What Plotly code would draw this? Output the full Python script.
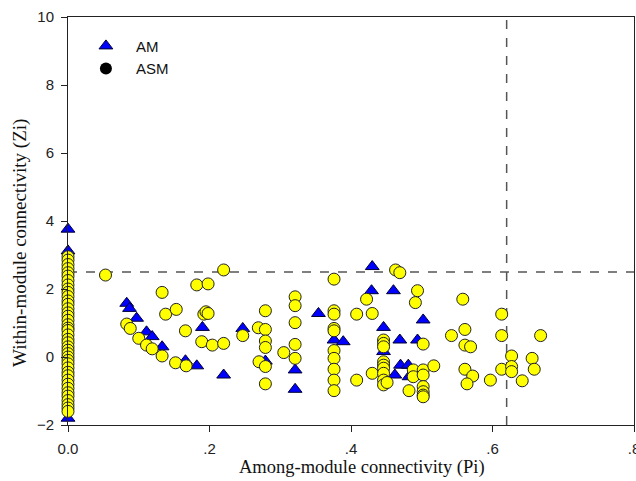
import plotly.graph_objects as go

# ---- data ----
am_pi = [0, 0, 0,
         0.083, 0.087, 0.097, 0.111, 0.119, 0.133, 0.166, 0.182, 0.190, 0.220, 0.247,
         0.279, 0.321, 0.321, 0.354, 0.376, 0.389, 0.429, 0.430, 0.446, 0.446, 0.460,
         0.462, 0.469, 0.470, 0.481, 0.482, 0.494, 0.502]
am_zi = [3.76, 3.12, -1.80,
         1.58, 1.43, 1.14, 0.74, 0.60, 0.30, -0.11, -0.26, 0.87, -0.53, 0.84,
         -0.12, -0.38, -0.95, 1.28, 0.50, 0.45, 1.95, 2.66, 0.87, 0.16, 1.95,
         -0.53, 0.50, -0.24, -0.24, -0.58, 0.50, 1.09]

asm_zero_zi = [2.95, 2.85, 2.72, 2.60, 2.48, 2.38, 2.25, 2.12, 2.00, 1.90, 1.78, 1.65,
               1.55, 1.42, 1.30, 1.20, 1.08, 0.95, 0.85, 0.78, 0.65, 0.52, 0.42, 0.30,
               0.20, 0.10, 0.00, -0.10, -0.20, -0.32, -0.45, -0.55, -0.68, -0.80, -0.92,
               -1.05, -1.15, -1.28, -1.40, -1.50, -1.60]
asm_pi_other = [0.053, 0.083, 0.088, 0.100, 0.111, 0.119, 0.133, 0.133, 0.138, 0.152,
                0.153, 0.166, 0.167, 0.182, 0.189, 0.192, 0.195, 0.198, 0.198, 0.204,
                0.220, 0.220, 0.247, 0.269, 0.270,
                0.279, 0.279, 0.279, 0.279, 0.279, 0.279, 0.305,
                0.321, 0.321, 0.321, 0.321, 0.321,
                0.376, 0.376, 0.376, 0.376, 0.376, 0.376, 0.376, 0.376, 0.376, 0.376,
                0.408, 0.408, 0.422, 0.430, 0.430,
                0.446, 0.446, 0.446, 0.446, 0.446, 0.446, 0.446, 0.446, 0.446, 0.451,
                0.463, 0.469, 0.482, 0.488, 0.488, 0.491, 0.494, 0.502,
                0.502, 0.502, 0.502, 0.502, 0.502, 0.502, 0.517,
                0.542, 0.558, 0.561, 0.561, 0.569, 0.561, 0.572, 0.564, 0.597,
                0.613, 0.613, 0.613, 0.627, 0.627, 0.627, 0.642, 0.656, 0.659, 0.668]
asm_zi_other = [2.41, 0.97, 0.84, 0.55, 0.35, 0.24, 1.90, 0.03, 1.26, -0.17,
                1.40, 0.77, -0.26, 2.12, 0.45, 1.26, 1.33, 1.28, 2.15, 0.35,
                2.56, 0.40, 0.63, 0.86, -0.14,
                1.36, 0.81, 0.47, 0.28, -0.28, -0.79, 0.13,
                1.77, 1.51, 1.01, 0.37, -0.04,
                2.29, 1.36, 1.26, 0.84, 0.77, 0.19, -0.04, -0.36, -0.68, -0.99,
                1.26, -0.68, 1.70, 1.28, -0.48,
                0.50, 0.40, 0.30, -0.14, -0.24, -0.33, -0.48, -0.68, -0.82, -0.75,
                2.56, 2.48, -0.99, -0.38, -0.58, 1.60, 1.95, 0.38,
                -0.38, -0.53, -0.87, -1.02, -1.12, -1.17, -0.26,
                0.63, 1.70, 0.81, 0.35, 0.30, -0.36, -0.56, -0.79, -0.68,
                1.26, 0.63, -0.36, 0.03, -0.28, -0.43, -0.70, -0.04, -0.36, 0.63]

asm_pi = [0] * len(asm_zero_zi) + asm_pi_other
asm_zi = asm_zero_zi + asm_zi_other

ZI_THRESHOLD = 2.5
PI_THRESHOLD = 0.62

x_tickvals = [0, 0.2, 0.4, 0.6, 0.8]
x_ticktext = ["0.0", ".2", ".4", ".6", ".8"]
y_tickvals = [-2, 0, 2, 4, 6, 8, 10]
y_ticktext = ["\u22122", "0", "2", "4", "6", "8", "10"]

sans = "Liberation Sans, Arial, sans-serif"
serif = "Liberation Serif, Times New Roman, serif"

fig = go.Figure()
fig.add_trace(go.Scatter(
    x=am_pi, y=am_zi, mode="markers", name="AM", showlegend=False, cliponaxis=False,
    marker=dict(symbol="triangle-up", size=12, color="#0000FF",
                line=dict(color="#000033", width=1))))
fig.add_trace(go.Scatter(
    x=asm_pi, y=asm_zi, mode="markers", name="ASM", showlegend=False, cliponaxis=False,
    marker=dict(symbol="circle", size=12, color="#FFFF00",
                line=dict(color="#222222", width=1))))
# legend entries
fig.add_trace(go.Scatter(
    x=[None], y=[None], mode="markers", name="AM",
    marker=dict(symbol="triangle-up", size=12, color="#0000FF",
                line=dict(color="#000033", width=1))))
fig.add_trace(go.Scatter(
    x=[None], y=[None], mode="markers", name="ASM",
    marker=dict(symbol="circle", size=12, color="#000000")))

fig.add_shape(type="line", xref="x", yref="y", x0=0, x1=0.8, y0=ZI_THRESHOLD, y1=ZI_THRESHOLD,
              line=dict(color="#555555", width=1.5, dash="dash"), layer="below")
fig.add_shape(type="line", xref="x", yref="y", x0=PI_THRESHOLD, x1=PI_THRESHOLD, y0=-2, y1=10,
              line=dict(color="#555555", width=1.5, dash="dash"), layer="below")

fig.add_annotation(text="Among-module connectivity (Pi)", xref="paper", yref="paper",
                   x=0.52, y=-0.103, xanchor="center", yanchor="middle", showarrow=False,
                   font=dict(family=serif, size=18.5, color="#111111"))
fig.add_annotation(text="Within-module connectivity (Zi)", xref="paper", yref="paper",
                   x=-0.085, y=0.446, xanchor="center", yanchor="middle", showarrow=False,
                   textangle=-90, font=dict(family=serif, size=19, color="#111111"))

fig.update_layout(
    template="none",
    width=636, height=481,
    margin=dict(l=68, r=2, t=17, b=56, autoexpand=False),
    paper_bgcolor="white", plot_bgcolor="white",
    font=dict(family=sans, size=15, color="#222222"),
    legend=dict(x=0.014, y=0.969, xanchor="left", yanchor="top",
                bgcolor="rgba(0,0,0,0)", borderwidth=0,
                font=dict(family=sans, size=15, color="#111111"),
                itemwidth=50, tracegroupgap=0),
    xaxis=dict(range=[0, 0.8], tickvals=x_tickvals, ticktext=x_ticktext,
               showgrid=False, zeroline=False, showline=True, mirror=True,
               linecolor="#222222", linewidth=1, ticks="outside", ticklen=6,
               tickcolor="#222222", automargin=False, ticklabelstandoff=4,
               ticklabeloverflow="allow"),
    yaxis=dict(range=[-2, 10], tickvals=y_tickvals, ticktext=y_ticktext,
               showgrid=False, zeroline=False, showline=True, mirror=True,
               linecolor="#222222", linewidth=1, ticks="outside", ticklen=6,
               tickcolor="#222222", automargin=False, ticklabelstandoff=4,
               ticklabeloverflow="allow"),
)

# remove the page's default body margin / scrollbars so the figure fills the window
page_css = ("document.body.style.margin='0';"
            "document.body.style.overflow='hidden';"
            "document.documentElement.style.overflow='hidden';")
fig.write_html("out.html", post_script=page_css, config={"displayModeBar": False})
